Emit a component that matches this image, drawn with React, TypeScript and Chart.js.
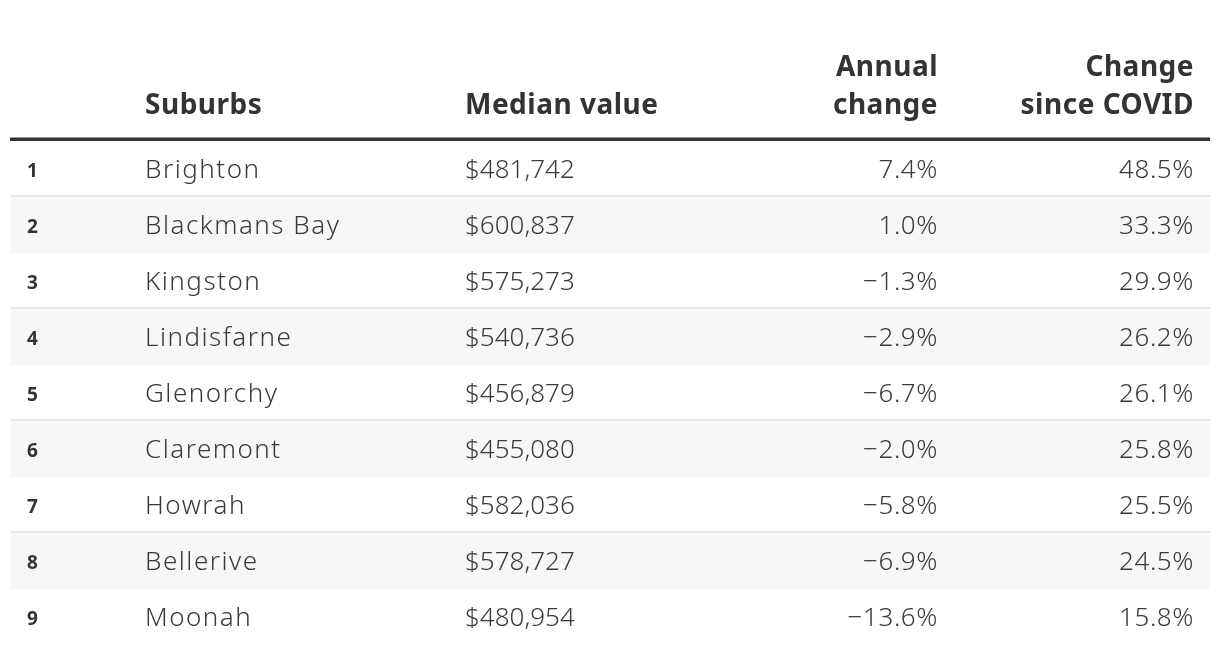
import React, { useEffect, useRef } from "react";
import { Chart, registerables } from "chart.js";

Chart.register(...registerables);

const ranks = [1, 2, 3, 4, 5, 6, 7, 8, 9];
const suburbs = [
  "Brighton",
  "Blackmans Bay",
  "Kingston",
  "Lindisfarne",
  "Glenorchy",
  "Claremont",
  "Howrah",
  "Bellerive",
  "Moonah",
];
const medianValues = [481742, 600837, 575273, 540736, 456879, 455080, 582036, 578727, 480954];
const annualChange = [7.4, 1.0, -1.3, -2.9, -6.7, -2.0, -5.8, -6.9, -13.6];
const covidChange = [48.5, 33.3, 29.9, 26.2, 26.1, 25.8, 25.5, 24.5, 15.8];
const headers = [[""], ["Suburbs"], ["Median value"], ["Annual", "change"], ["Change", "since COVID"]];

const FONT = "'Noto Sans', sans-serif";
const TEXT = "#333333";

const fmtMoney = (v: number) => "$" + v.toLocaleString("en-US");
const fmtPct = (v: number) => (v < 0 ? "\u2212" : "") + Math.abs(v).toFixed(1) + "%";

// column anchors (offset from chart area left), alignment and letter spacing
const columns = [
  { x: 17, align: "left" as CanvasTextAlign, spacing: "0px" },
  { x: 135, align: "left" as CanvasTextAlign, spacing: "1.5px" },
  { x: 455, align: "left" as CanvasTextAlign, spacing: "0px" },
  { x: 928, align: "right" as CanvasTextAlign, spacing: "0.6px" },
  { x: 1184, align: "right" as CanvasTextAlign, spacing: "0.6px" },
];

const tablePlugin = {
  id: "tablePlugin",
  beforeDatasetsDraw(chart: any) {
    const { ctx, chartArea, scales } = chart;
    const y = scales.y;
    ctx.save();
    ctx.fillStyle = "#e6e6e6";
    const step = y.getPixelForValue(1) - y.getPixelForValue(0);
    for (let i = 1; i < suburbs.length; i++) {
      const top = y.getPixelForValue(i) - step / 2;
      ctx.fillRect(chartArea.left, top - 2, chartArea.right - chartArea.left, 2);
    }
    ctx.restore();
  },
  afterDatasetsDraw(chart: any) {
    const { ctx, chartArea, scales } = chart;
    const y = scales.y;
    const L = chartArea.left;
    ctx.save();
    ctx.fillStyle = TEXT;
    ctx.fillRect(L, chartArea.top - 3.5, chartArea.right - L, 3.5);

    ctx.font = `bold 28px ${FONT}`;
    (ctx as any).letterSpacing = "0.5px";
    ctx.fillStyle = TEXT;
    ctx.textBaseline = "alphabetic";
    headers.forEach((lines, c) => {
      ctx.textAlign = columns[c].align;
      const n = lines.length;
      lines.forEach((t, k) => {
        const base = chartArea.top - 27 - (n - 1 - k) * 38;
        ctx.fillText(t, L + columns[c].x, base);
      });
    });

    suburbs.forEach((s, i) => {
      const cy = y.getPixelForValue(i);
      ctx.fillStyle = TEXT;
      (ctx as any).letterSpacing = "0px";
      ctx.font = `bold 19px ${FONT}`;
      ctx.textAlign = columns[0].align;
      ctx.fillText(String(ranks[i]), L + columns[0].x, cy + 7.5);
      ctx.font = `300 26px ${FONT}`;
      ctx.fillStyle = "#3a3a3a";
      const cells = [s, fmtMoney(medianValues[i]), fmtPct(annualChange[i]), fmtPct(covidChange[i])];
      cells.forEach((t, k) => {
        const col = columns[k + 1];
        (ctx as any).letterSpacing = col.spacing;
        ctx.textAlign = col.align;
        ctx.fillText(t, L + col.x, cy + 9);
      });
    });
    ctx.restore();
  },
};

export default function App() {
  const ref = useRef<HTMLCanvasElement>(null);
  useEffect(() => {
    if (!ref.current) return;
    const chart = new Chart(ref.current, {
      type: "bar",
      data: {
        labels: suburbs,
        datasets: [
          {
            label: "Row shading",
            data: suburbs.map((_, i) => (i % 2 === 1 ? 1 : 0)),
            backgroundColor: "#f7f7f7",
            borderWidth: 0,
            barPercentage: 1,
            categoryPercentage: 1,
          },
        ],
      },
      options: {
        indexAxis: "y",
        animation: false,
        responsive: false,
        layout: { padding: { left: 10, right: 10, top: 141, bottom: 9 } },
        plugins: { legend: { display: false }, tooltip: { enabled: false } },
        scales: {
          x: { display: false, min: 0, max: 1 },
          y: { display: false, offset: true, grid: { display: false } },
        },
      },
      plugins: [tablePlugin],
    });
    return () => chart.destroy();
  }, []);
  return (
    <div style={{ position: "absolute", left: 0, top: 0, width: 1220, height: 654, background: "#fff" }}>
      <canvas ref={ref} width={1220} height={654} />
    </div>
  );
}
